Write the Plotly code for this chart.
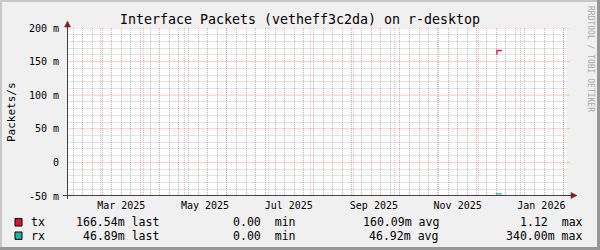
import plotly.graph_objects as go

# ---- data ----
title_text = "Interface Packets (vetheff3c2da) on r-desktop"
y_title = "Packets/s"
x_range = ["2025-02-04 11:00", "2026-02-03 16:00"]
y_range = [-0.05, 0.20]

tx_times = ["2025-12-14 15:00", "2025-12-18 05:00"]
tx_values = [0.16009, 0.16654]
rx_times = ["2025-12-14 00:00", "2025-12-18 05:00"]
rx_values = [-0.04692, -0.04689]

x_label_dates = ["2025-03-16", "2025-05-16", "2025-07-16", "2025-09-16", "2025-11-16", "2026-01-16"]
y_tick_vals = [-0.05, 0.0, 0.05, 0.10, 0.15, 0.20]
y_tick_text = ["-50 m", "0", "50 m", "100 m", "150 m", "200 m"]

series_names = ["tx", "rx"]
series_colors = ["#DC143C", "#20B2AA"]
last_vals = ["166.54m", "46.89m"]
min_vals = ["0.00", "0.00"]
avg_vals = ["160.09m", "46.92m"]
max_vals = ["1.12", "340.00m"]

# ---- layout geometry (pixels) ----
W, H = 600, 250
L, T, PW, PH = 67, 28, 500, 168
B = T + PH


def px(x):
    return (x - L) / PW


def py(y):
    return (B - y) / PH


MONO = "DejaVu Sans Mono"
GRID = "rgba(128,128,128,0.55)"
MGRID = "rgba(240,80,80,0.40)"
GRID_H = "rgba(128,128,128,0.22)"
MGRID_H = "rgba(240,80,80,0.30)"
AXIS = "#404040"
ARROW = "#7F1F1F"

# minor grid positions (10 m steps, skipping the 50 m major lines)
y_minor_vals = [k / 1000 for k in range(-50, 201, 10) if k % 50 != 0]

fig = go.Figure()
fig.add_trace(go.Scatter(x=tx_times, y=tx_values, mode="lines", line=dict(color=series_colors[0], width=1.3, shape="vh"),
                         xaxis="x", yaxis="y", showlegend=False, hoverinfo="skip"))
fig.add_trace(go.Scatter(x=rx_times, y=rx_values, mode="lines", line=dict(color=series_colors[1], width=1.3, shape="vh"),
                         xaxis="x", yaxis="y", showlegend=False, hoverinfo="skip"))
# helper trace to activate the grid-only overlay x axis
fig.add_trace(go.Scatter(x=x_range, y=[None, None], xaxis="x2", yaxis="y", showlegend=False, hoverinfo="skip"))

fig.update_layout(
    width=W, height=H,
    margin=dict(l=L, r=W - L - PW, t=T, b=H - B, pad=0),
    paper_bgcolor="#F0F0F0", plot_bgcolor="#FFFFFF",
    showlegend=False,
    font=dict(family=MONO, size=10, color="#000000"),
    title=dict(text=title_text, x=0.5, xanchor="center", xref="container", y=1 - 19 / H, yanchor="middle",
               font=dict(family=MONO, size=13.3, color="#000000")),
    xaxis=dict(type="date", range=x_range, tickmode="array", tickvals=x_label_dates, tickformat="%b %Y",
               showgrid=False, zeroline=False, showline=False, ticks="", tickfont=dict(family=MONO, size=10),
               ticklabelstandoff=2,
               minor=dict(tickmode="linear", tick0="2025-01-05", dtick=7 * 86400000, showgrid=True,
                          gridcolor=GRID, griddash="1px,1px", gridwidth=1, ticks=""),
               fixedrange=True),
    xaxis2=dict(type="date", overlaying="x", matches="x", range=x_range, anchor="y", side="bottom",
                tickmode="linear", tick0="2025-01-01", dtick="M1", showticklabels=False, ticks="",
                showgrid=True, gridcolor=MGRID, griddash="1px,1px", gridwidth=1, zeroline=False, showline=False),
    yaxis=dict(range=y_range, tickmode="array", tickvals=y_tick_vals, ticktext=y_tick_text, showgrid=False,
               zeroline=False, showline=False, ticks="outside", ticklen=5, tickcolor="rgba(0,0,0,0)",
               tickfont=dict(family=MONO, size=10),
               minor=dict(tickmode="array", tickvals=y_minor_vals, showgrid=True, gridcolor=GRID_H,
                          griddash="solid", gridwidth=1, ticks=""),
               fixedrange=True),
)

shapes = []
# major horizontal grid lines, placed on the y scale at the labelled values
for v in y_tick_vals[1:]:
    shapes.append(dict(type="line", xref="paper", yref="y", x0=0, x1=1.006, y0=v, y1=v,
                       line=dict(color=MGRID_H, width=1), layer="above"))
# frame shades
shapes.append(dict(type="rect", xref="paper", yref="paper", x0=px(0), x1=px(W), y0=py(0), y1=py(2),
                   fillcolor="#C8C8C8", line=dict(width=0), layer="below"))
shapes.append(dict(type="rect", xref="paper", yref="paper", x0=px(0), x1=px(2), y0=py(0), y1=py(H),
                   fillcolor="#C8C8C8", line=dict(width=0), layer="below"))
shapes.append(dict(type="rect", xref="paper", yref="paper", x0=px(0), x1=px(W), y0=py(H - 3), y1=py(H),
                   fillcolor="#969696", line=dict(width=0), layer="below"))
shapes.append(dict(type="rect", xref="paper", yref="paper", x0=px(W - 3), x1=px(W), y0=py(0), y1=py(H),
                   fillcolor="#969696", line=dict(width=0), layer="below"))
# axes
shapes.append(dict(type="line", xref="paper", yref="paper", x0=px(67.5), x1=px(67.5), y0=py(199), y1=py(24),
                   line=dict(color=AXIS, width=1)))
shapes.append(dict(type="line", xref="paper", yref="paper", x0=px(63), x1=px(572), y0=py(195.5), y1=py(195.5),
                   line=dict(color=AXIS, width=1)))
# arrows
shapes.append(dict(type="path", xref="paper", yref="paper",
                   path=f"M {px(64.5)} {py(27)} L {px(70.5)} {py(27)} L {px(67.5)} {py(21)} Z",
                   fillcolor=ARROW, line=dict(color=ARROW, width=0.5)))
shapes.append(dict(type="path", xref="paper", yref="paper",
                   path=f"M {px(571)} {py(192.5)} L {px(571)} {py(198.5)} L {px(577)} {py(195.5)} Z",
                   fillcolor=ARROW, line=dict(color=ARROW, width=0.5)))

annotations = []
row_y = [222.3, 235.7]
LF = 11.55
for i, name in enumerate(series_names):
    yc = row_y[i]
    shapes.append(dict(type="rect", xref="paper", yref="paper", x0=px(15), x1=px(22), y0=py(yc - 3.7),
                       y1=py(yc + 3.7), fillcolor=series_colors[i], line=dict(color="#000000", width=1)))
    fields = [
        (name, 30, "left"),
        (f"{last_vals[i]} last", 160, "right"),
        (f"{min_vals[i]}\u00a0\u00a0min", 297, "right"),
        (f"{avg_vals[i]} avg", 440, "right"),
        (f"{max_vals[i]}" + ("\u00a0\u00a0max" if not max_vals[i].endswith("m") else " max"), 584, "right"),
    ]
    for text, xpos, anchor in fields:
        annotations.append(dict(text=text, xref="paper", yref="paper", x=px(xpos), y=py(yc), xanchor=anchor,
                                yanchor="middle", showarrow=False, borderpad=0,
                                font=dict(family=MONO, size=LF, color="#000000")))

annotations.append(dict(text=y_title, xref="paper", yref="paper", x=px(11), y=py(112), textangle=-90,
                        xanchor="center", yanchor="middle", showarrow=False,
                        font=dict(family=MONO, size=11, color="#000000")))
annotations.append(dict(text="RRDTOOL / TOBI OETIKER", xref="paper", yref="paper", x=px(591), y=py(59),
                        textangle=90, xanchor="center", yanchor="middle", showarrow=False,
                        font=dict(family=MONO, size=8, color="#A8A8A8")))

fig.update_layout(shapes=shapes, annotations=annotations)
fig.write_html("out.html")
